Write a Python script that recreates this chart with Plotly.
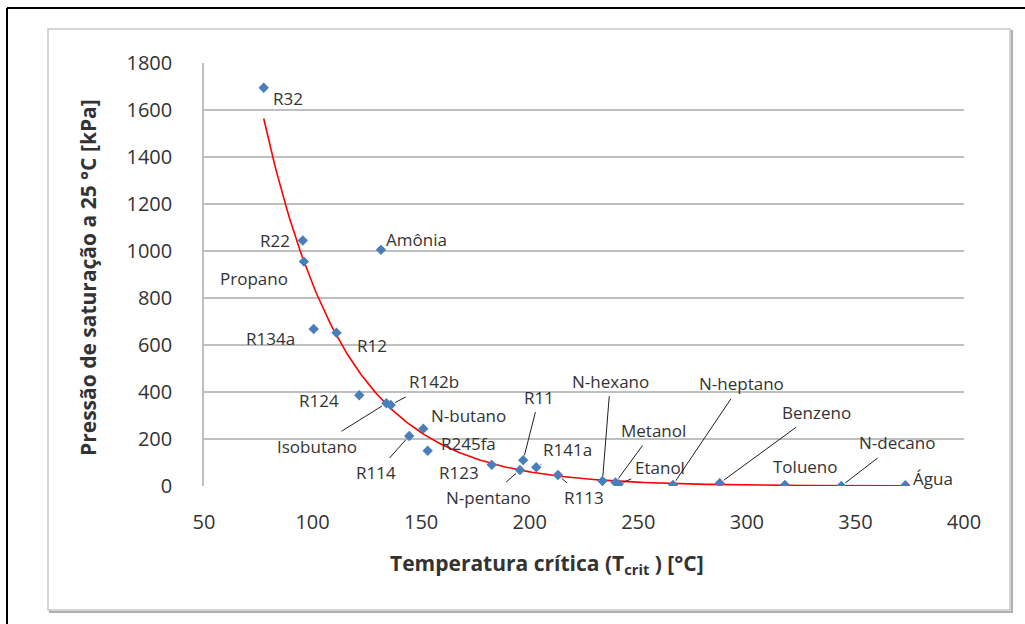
import numpy as np
import plotly.graph_objects as go

# Fluidos: temperatura crítica [°C] e pressão de saturação a 25 °C [kPa]
fluidos = ["R32", "R22", "Propano", "Amônia", "R134a", "R12", "R124", "R142b",
           "Isobutano", "N-butano", "R114", "R245fa", "R123", "R11", "N-pentano",
           "R141a", "R113", "N-hexano", "Metanol", "Etanol", "N-heptano",
           "Benzeno", "Tolueno", "N-decano", "Água"]
t_crit = [77.5, 95.5, 96.0, 131.5, 100.5, 111.0, 121.5, 136.0,
          134.0, 151.0, 144.5, 153.0, 182.5, 197.0, 195.5,
          203.0, 213.0, 233.5, 239.5, 241.0, 266.0,
          287.5, 317.5, 343.5, 373.0]
p_sat = [1695, 1045, 955, 1005, 668, 652, 386, 345,
         352, 244, 213, 150, 90, 110, 68,
         80, 47, 21, 15, 8, 5,
         12, 4, 0.2, 3.2]

x_ticks = [50, 100, 150, 200, 250, 300, 350, 400]
y_ticks = [0, 200, 400, 600, 800, 1000, 1200, 1400, 1600, 1800]

# Posição dos rótulos em pixels relativa ao ponto (dx, dy para baixo, linha guia)
rotulos = {
    "R32": (24, 11, False), "R22": (-28, 0, False), "Propano": (-50, 17, False),
    "Amônia": (36, -10, False), "R134a": (-43, 9, False), "R12": (36, 13, False),
    "R124": (-40, 5, False), "R142b": (43, -23, True), "Isobutano": (-69, 43, True),
    "N-butano": (45, -13, False), "R114": (-33, 37, True), "R245fa": (41, -7, False),
    "R123": (-33, 8, False), "R11": (16, -63, True), "N-pentano": (-31, 27, True),
    "R141a": (31, -18, True), "R113": (26, 23, True), "N-hexano": (8, -100, True),
    "Metanol": (38, -52, True), "Etanol": (41, -17, True), "N-heptano": (68, -101, True),
    "Benzeno": (97, -71, True), "Tolueno": (21, -19, False), "N-decano": (56, -43, True),
    "Água": (28, -7, False),
}

W, H = 1025, 624
ML, MR, MT, MB = 204, 61, 63, 138
PW, PH = W - ML - MR, H - MT - MB


def px_x(px):
    return (px - ML) / PW


def px_y(py):
    return (H - MB - py) / PH


# Linha de tendência exponencial (ajuste de mínimos quadrados em ln p)
tx = np.array(t_crit, dtype=float)
ty = np.array(p_sat, dtype=float)
b, ln_a = np.polyfit(tx, np.log(ty), 1)
xs = np.linspace(tx.min(), tx.max(), 300)
ys = np.exp(ln_a) * np.exp(b * xs)

FONT = "Open Sans"
TXT = "#333333"

fig = go.Figure()
fig.add_trace(go.Scatter(x=xs, y=ys, mode="lines",
                         line=dict(color="#ff0000", width=1.6),
                         hoverinfo="skip", showlegend=False))
fig.add_trace(go.Scatter(x=t_crit, y=p_sat, mode="markers", text=fluidos,
                         marker=dict(symbol="diamond", size=8, color="#4a7ebb"),
                         showlegend=False))

annotations = []
for nome, x, y in zip(fluidos, t_crit, p_sat):
    dx, dy, guia = rotulos[nome]
    if guia:
        annotations.append(dict(x=x, y=y, xref="x", yref="y", text=nome,
                                showarrow=True, arrowhead=0, arrowwidth=1,
                                arrowcolor="#202020", ax=dx, ay=dy, standoff=5,
                                borderpad=3,
                                font=dict(family=FONT, size=17, color=TXT)))
    else:
        annotations.append(dict(x=x, y=y, xref="x", yref="y", text=nome,
                                showarrow=False, xshift=dx, yshift=-dy,
                                font=dict(family=FONT, size=17, color=TXT)))

annotations.append(dict(x=px_x(88), y=px_y(278), xref="paper", yref="paper",
                        xanchor="center", yanchor="middle",
                        text="<b>Pressão de saturação a 25 °C [kPa]</b>",
                        textangle=-90, showarrow=False,
                        font=dict(family=FONT, size=21, color=TXT)))
annotations.append(dict(x=px_x(547), y=px_y(564), xref="paper", yref="paper",
                        xanchor="center", yanchor="middle",
                        text="<b>Temperatura crítica (T<sub>crit</sub> ) [°C]</b>",
                        showarrow=False,
                        font=dict(family=FONT, size=21, color=TXT)))

shapes = [
    # sombra e moldura da área do gráfico
    dict(type="rect", xref="paper", yref="paper",
         x0=px_x(50), x1=px_x(1012), y0=px_y(612), y1=px_y(31),
         line=dict(color="#b0b0b0", width=2), layer="below"),
    dict(type="rect", xref="paper", yref="paper",
         x0=px_x(48), x1=px_x(1010), y0=px_y(610), y1=px_y(29),
         line=dict(color="#c8c8c8", width=1.5), fillcolor="white", layer="below"),
    # borda externa
    dict(type="line", xref="paper", yref="paper",
         x0=px_x(7), x1=px_x(7), y0=px_y(8), y1=px_y(624),
         line=dict(color="black", width=2)),
    dict(type="line", xref="paper", yref="paper",
         x0=px_x(7), x1=px_x(1025), y0=px_y(8), y1=px_y(8),
         line=dict(color="black", width=2)),
]

fig.update_layout(
    width=W, height=H,
    margin=dict(l=ML, r=MR, t=MT, b=MB, autoexpand=False),
    paper_bgcolor="white", plot_bgcolor="white",
    font=dict(family=FONT, color=TXT),
    annotations=annotations, shapes=shapes,
    xaxis=dict(range=[50, 400], tickvals=x_ticks, showgrid=False, zeroline=False,
               showline=False, ticks="", ticklabelstandoff=22,
               tickfont=dict(family=FONT, size=20, color=TXT), fixedrange=True),
    yaxis=dict(range=[0, 1800], tickvals=y_ticks, showgrid=True,
               gridcolor="#bfbfbf", gridwidth=1.5, zeroline=False,
               showline=True, linecolor="#bfbfbf", linewidth=1.5,
               ticks="", ticklabelstandoff=26,
               tickfont=dict(family=FONT, size=20, color=TXT), fixedrange=True),
)

fig.write_html("out.html")
